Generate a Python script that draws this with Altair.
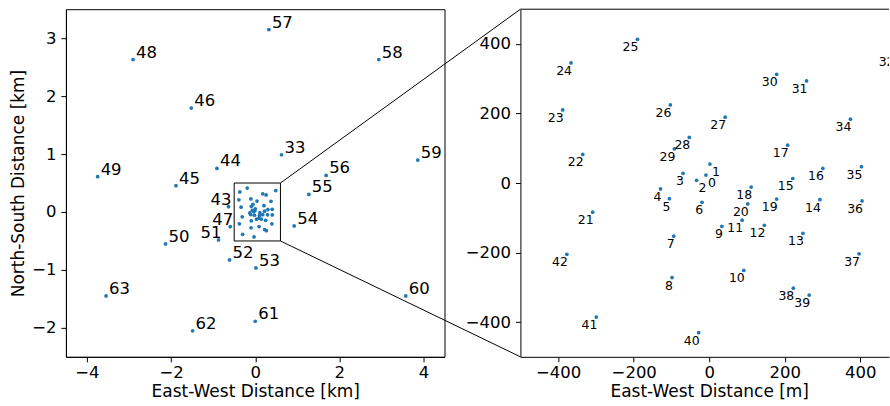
import altair as alt
import pandas as pd

FONT = "DejaVu Sans"
DOT = "#1f77b4"

# Core antennas: id, east and north offsets in metres
core_id = [0, 1, 2, 3, 4, 5, 6, 7, 8, 9, 10, 11, 12, 13, 14, 15, 16, 17, 18, 19,
           20, 21, 22, 23, 24, 25, 26, 27, 28, 29, 30, 31, 32, 34, 35, 36, 37, 38,
           39, 40, 41, 42]
core_east = [-8.7, 1.8, -33.5, -69.4, -129, -105.5, -19, -94, -98.5, 33.4, 91.5,
             87, 146, 248, 293, 221, 300.8, 207.6, 111, 178.5, 102, -308.7, -335,
             -388, -366, -190, -103, 42.2, -52.8, -92.3, 178.5, 257.7, 488, 374,
             403, 404.6, 396.7, 222.5, 264.7, -28, -299, -377]
core_north = [23, 54.5, 7.7, 27.8, -17, -45, -55.5, -153, -272, -124.4, -251.6,
              -107, -121.5, -144.5, -48, 13, 42, 109, -11.5, -46, -60, -84, 82.4,
              210.4, 345.3, 413.3, 224.7, 189.4, 131.2, 98.5, 312.8, 293.7, 370,
              183.7, 46.9, -51.7, -203.8, -302.4, -322.5, -430.5, -385.5, -205]

# Outer antennas: id, east and north offsets in kilometres
outer_id = [33, 43, 44, 45, 46, 47, 48, 49, 50, 51, 52, 53, 54, 55, 56, 57, 58,
            59, 60, 61, 62, 63]
outer_east = [0.625, -0.634, -0.91, -1.884, -1.52, -0.594, -2.905, -3.746, -2.131,
              -0.872, -0.61, 0.017, 0.926, 1.275, 1.686, 0.325, 2.938, 3.864,
              3.579, 0.0, -1.489, -3.546]
outer_north = [0.988, 0.091, 0.752, 0.453, 1.793, -0.253, 2.631, 0.609, -0.552,
               -0.483, -0.828, -0.966, -0.241, 0.303, 0.631, 3.148, 2.631, 0.897,
               -1.448, -1.886, -2.052, -1.448]

# Labels written on the other side of their dot
left_flip = [43, 47, 51]
right_flip = [0, 1, 2]

# Axis ranges of the two panels (the zoomed panel runs off the right edge)
left_x_domain = [-4.5, 4.5]
left_y_domain = [-2.5, 3.5]
right_x_domain = [-500, 476]
right_y_domain = [-500, 500]
# Zoom box drawn on the overview (km)
box_east = [-0.5, 0.6]
box_north = [-0.5, 0.5]

LEFT_W, LEFT_H = 379, 348
RIGHT_W, RIGHT_H = 369, 348
GAP = 76

core_m = pd.DataFrame({"id": core_id, "east": core_east, "north": core_north})
core_m["label"] = core_m["id"].astype(str)
core_m["flip"] = core_m["id"].isin(right_flip)

outer_km = pd.DataFrame({"id": outer_id, "east": outer_east, "north": outer_north})
outer_km["label"] = outer_km["id"].astype(str)
outer_km["flip"] = outer_km["id"].isin(left_flip)

all_km = pd.concat([
    pd.DataFrame({"east": core_m["east"] / 1000.0, "north": core_m["north"] / 1000.0}),
    outer_km[["east", "north"]],
], ignore_index=True)

# Box outline and the two connectors running to the inset's left corners
inset_edge = left_x_domain[1] + GAP * (left_x_domain[1] - left_x_domain[0]) / LEFT_W
box_df = pd.DataFrame({"east": [box_east[0]], "east2": [box_east[1]],
                       "north": [box_north[0]], "north2": [box_north[1]]})
conn_df = pd.DataFrame({
    "east": [box_east[1], box_east[1]],
    "east2": [inset_edge, inset_edge],
    "north": [box_north[1], box_north[0]],
    "north2": [left_y_domain[1], left_y_domain[0]],
})

lx = alt.X("east:Q", scale=alt.Scale(domain=left_x_domain, nice=False, zero=False),
           axis=alt.Axis(values=[-4, -2, 0, 2, 4], title="East-West Distance [km]"))
ly = alt.Y("north:Q", scale=alt.Scale(domain=left_y_domain, nice=False, zero=False),
           axis=alt.Axis(values=[-2, -1, 0, 1, 2, 3], title="North-South Distance [km]"))

left_pts = alt.Chart(all_km).mark_circle(size=14, color=DOT, opacity=1).encode(x=lx, y=ly)
left_lab = alt.Chart(outer_km).transform_filter("!datum.flip").mark_text(
    align="left", baseline="alphabetic", dx=3, dy=-2, font=FONT, fontSize=16.5,
    color="black").encode(x=lx, y=ly, text="label:N")
left_lab_flip = alt.Chart(outer_km).transform_filter("datum.flip").mark_text(
    align="right", baseline="alphabetic", dx=3, dy=-2, font=FONT, fontSize=16.5,
    color="black").encode(x=lx, y=ly, text="label:N")
box = alt.Chart(box_df).mark_rect(fillOpacity=0, stroke="black", strokeWidth=1).encode(
    x=lx, x2="east2:Q", y=ly, y2="north2:Q")
conn = alt.Chart(conn_df).mark_rule(color="black", strokeWidth=1, clip=False).encode(
    x=lx, x2="east2:Q", y=ly, y2="north2:Q")

left = alt.layer(left_pts, box, conn, left_lab, left_lab_flip).properties(
    width=LEFT_W, height=LEFT_H)

# x position of the metre axis title: centred on east = 0
title_x = (0 - right_x_domain[0]) * RIGHT_W / (right_x_domain[1] - right_x_domain[0])

rx = alt.X("east:Q", scale=alt.Scale(domain=right_x_domain, nice=False, zero=False),
           axis=alt.Axis(values=[-400, -200, 0, 200, 400],
                         title="East-West Distance [m]", titleX=title_x))
ry = alt.Y("north:Q", scale=alt.Scale(domain=right_y_domain, nice=False, zero=False),
           axis=alt.Axis(values=[-400, -200, 0, 200, 400], title=None))

# top frame line of the zoomed panel
top_df = pd.DataFrame({"east": [right_x_domain[0]], "east2": [right_x_domain[1]],
                       "north": [right_y_domain[1]]})
right_top = alt.Chart(top_df).mark_rule(color="black", strokeWidth=1).encode(
    x=rx, x2="east2:Q", y=ry)

right_pts = alt.Chart(core_m).mark_circle(size=14, color=DOT, opacity=1, clip=True).encode(
    x=rx, y=ry)
right_lab = alt.Chart(core_m).transform_filter("!datum.flip").mark_text(
    align="right", baseline="top", dx=1, dy=2, font=FONT, fontSize=12.5,
    color="black", clip=True).encode(x=rx, y=ry, text="label:N")
right_lab_flip = alt.Chart(core_m).transform_filter("datum.flip").mark_text(
    align="left", baseline="top", dx=2, dy=2, font=FONT, fontSize=12.5,
    color="black", clip=True).encode(x=rx, y=ry, text="label:N")

right = alt.layer(right_top, right_pts, right_lab, right_lab_flip).properties(
    width=RIGHT_W, height=RIGHT_H,
    view=alt.ViewBackground(stroke="transparent"))

chart = alt.hconcat(left, right, spacing=GAP, bounds="flush").properties(
    padding={"left": 9, "top": 8, "right": 0, "bottom": 0}
).configure_axis(
    labelFont=FONT, titleFont=FONT, labelFontSize=16.5, titleFontSize=17,
    titleFontWeight="normal", labelColor="black", titleColor="black",
    domainColor="black", tickColor="black", tickSize=5, labelPadding=5,
    titlePadding=4, grid=False, domainWidth=1, tickWidth=1,
).configure_axisX(
    labelPadding=3, titlePadding=2,
).configure_view(stroke="black", strokeWidth=1)

chart.save("out.html", embed_options={"renderer": "svg", "actions": False})
